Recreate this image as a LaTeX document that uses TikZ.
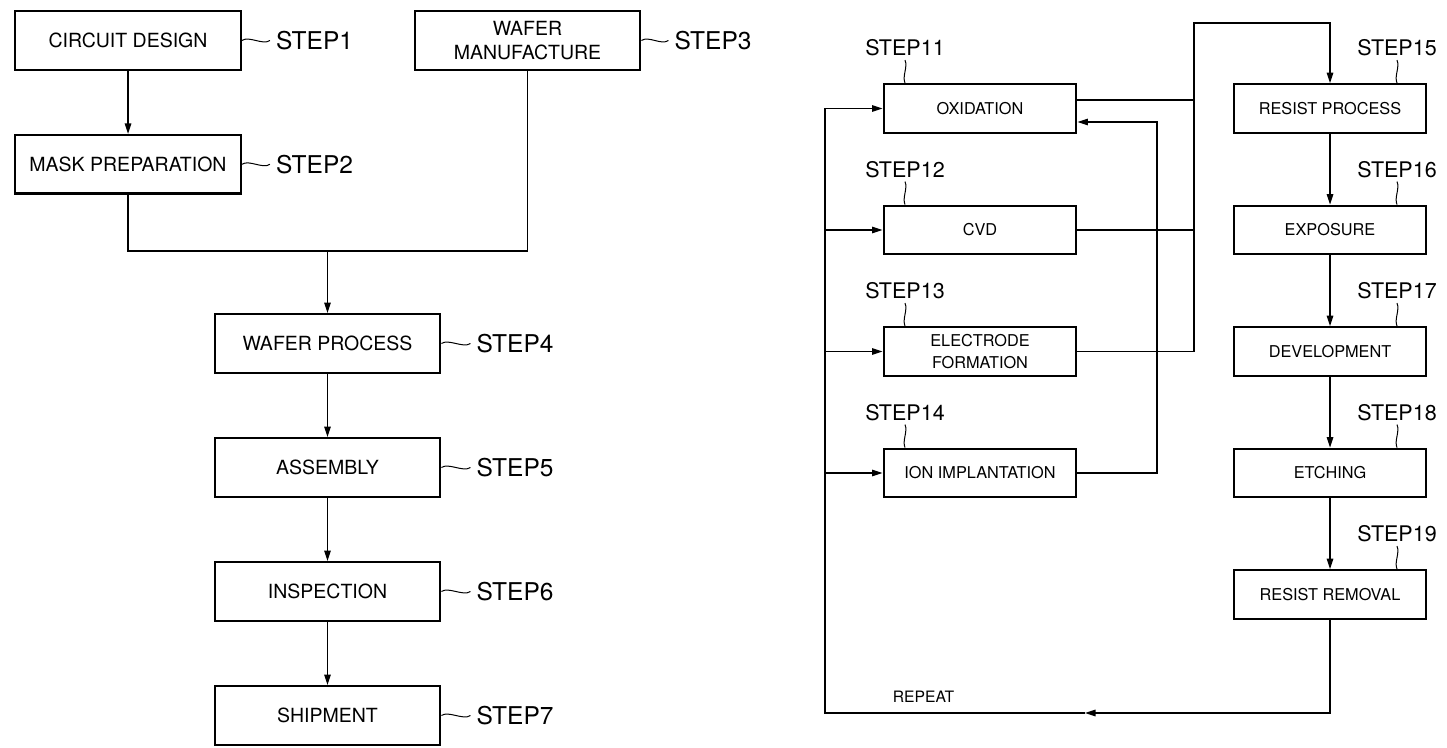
\documentclass[tikz,border=0pt]{standalone}
\usepackage{fontspec}
\setmainfont{TeX Gyre Heros}
\usetikzlibrary{positioning, calc, arrows.meta}

\tikzset{
  box/.style={draw, line width=2.3pt, minimum width=225.5pt, minimum height=58.5pt,
    align=center, font=\fontsize{19.5}{23.3}\selectfont},
  sbox/.style={draw, line width=2.3pt, minimum width=192.5pt, minimum height=48.5pt,
    align=center, font=\fontsize{16.3}{21.7}\selectfont},
  steptag/.style={inner sep=0pt, font=\fontsize{24.5}{28}\selectfont},
  substep/.style={inner sep=0pt, font=\fontsize{21.5}{25}\selectfont},
  wire/.style={line width=1.35pt},
  flow/.style={wire, -{Triangle[length=10.5pt, width=6.5pt]}},
  tilde/.style={line width=1pt, to path={.. controls +(7,-5) and +(-7,5) .. (\tikztotarget)}},
  wiggle/.style={line width=1pt, to path={.. controls +(3,7) and +(-3,-7) .. (\tikztotarget)}},
}

\begin{document}
\begin{tikzpicture}[x=1pt, y=-1pt]
    \useasboundingbox (0,0) rectangle (1447,747);

    % Main manufacturing flow
    \node[box] (cd) at (128,40.5) {CIRCUIT DESIGN};
    \node[box, below=63pt of cd] (mp) {MASK PREPARATION};
    \node[box] (wm) at (527.5,40.5) {WAFER\\MANUFACTURE};
    \node[box] (wp) at (327.5,343.5) {WAFER PROCESS};
    \node[box, below=63.2pt of wp] (as) {ASSEMBLY};
    \node[box, below=63.2pt of as] (in) {INSPECTION};
    \node[box, below=63.2pt of in] (sh) {SHIPMENT};

    % Step tags with tilde leaders
    \node[steptag, right=34pt of cd] (s1) {STEP1};
    \node[steptag, right=34pt of mp] (s2) {STEP2};
    \node[steptag, right=33pt of wm] (s3) {STEP3};
    \node[steptag, right=35pt of wp] (s4) {STEP4};
    \node[steptag, right=35pt of as] (s5) {STEP5};
    \node[steptag, right=35pt of in] (s6) {STEP6};
    \node[steptag, right=35pt of sh] (s7) {STEP7};
    \draw[tilde] (cd.east) to ([xshift=-6pt]s1.west);
    \draw[tilde] (mp.east) to ([xshift=-6pt]s2.west);
    \draw[tilde] (wm.east) to ([xshift=-6pt]s3.west);
    \draw[tilde] (wp.east) to ([xshift=-6pt]s4.west);
    \draw[tilde] (as.east) to ([xshift=-6pt]s5.west);
    \draw[tilde] (in.east) to ([xshift=-6pt]s6.west);
    \draw[tilde] (sh.east) to ([xshift=-6pt]s7.west);

    % Connections
    \draw[flow] (cd) -- (mp);
    \path (wp.north) ++(0,-62) coordinate (join);
    \draw[wire] (mp.south) |- (join) -| (wm.south);
    \draw[flow] (join) -- (wp);
    \draw[flow] (wp) -- (as);
    \draw[flow] (as) -- (in);
    \draw[flow] (in) -- (sh);

    % Wafer process detail
    \node[sbox] (ox) at (980,108.5) {OXIDATION};
    \node[sbox, below=70.7pt of ox] (cvd) {CVD};
    \node[sbox, below=70.7pt of cvd] (ef) {ELECTRODE\\FORMATION};
    \node[sbox, below=70.7pt of ef] (ion) {ION IMPLANTATION};
    \node[sbox] (rp) at (1330,108.5) {RESIST PROCESS};
    \node[sbox, below=70.7pt of rp] (ex) {EXPOSURE};
    \node[sbox, below=70.7pt of ex] (dev) {DEVELOPMENT};
    \node[sbox, below=70.7pt of dev] (etch) {ETCHING};
    \node[sbox, below=70.7pt of etch] (rr) {RESIST REMOVAL};

    % Step tags with wiggle leaders
    \node[substep, anchor=south] (s11) at ($(ox.north)+(-75,-27)$) {STEP11};
    \node[substep, anchor=south] (s12) at ($(cvd.north)+(-75,-27)$) {STEP12};
    \node[substep, anchor=south] (s13) at ($(ef.north)+(-75,-27)$) {STEP13};
    \node[substep, anchor=south] (s14) at ($(ion.north)+(-75,-27)$) {STEP14};
    \node[substep, anchor=south] (s15) at ($(rp.north)+(67,-27)$) {STEP15};
    \node[substep, anchor=south] (s16) at ($(ex.north)+(67,-27)$) {STEP16};
    \node[substep, anchor=south] (s17) at ($(dev.north)+(67,-27)$) {STEP17};
    \node[substep, anchor=south] (s18) at ($(etch.north)+(67,-27)$) {STEP18};
    \node[substep, anchor=south] (s19) at ($(rr.north)+(67,-27)$) {STEP19};
    \draw[wiggle] ([yshift=-4pt]s11.south) to (s11.south |- ox.north);
    \draw[wiggle] ([yshift=-4pt]s12.south) to (s12.south |- cvd.north);
    \draw[wiggle] ([yshift=-4pt]s13.south) to (s13.south |- ef.north);
    \draw[wiggle] ([yshift=-4pt]s14.south) to (s14.south |- ion.north);
    \draw[wiggle] ([yshift=-4pt]s15.south) to (s15.south |- rp.north);
    \draw[wiggle] ([yshift=-4pt]s16.south) to (s16.south |- ex.north);
    \draw[wiggle] ([yshift=-4pt]s17.south) to (s17.south |- dev.north);
    \draw[wiggle] ([yshift=-4pt]s18.south) to (s18.south |- etch.north);
    \draw[wiggle] ([yshift=-4pt]s19.south) to (s19.south |- rr.north);

    % Resist chain
    \draw[flow] (rp) -- (ex);
    \draw[flow] (ex) -- (dev);
    \draw[flow] (dev) -- (etch);
    \draw[flow] (etch) -- (rr);

    % Repeat loop and distribution bus
    \coordinate (bus) at (825,713);
    \coordinate (rpt) at (1085,713);
    \coordinate (col) at (1194,23);
    \coordinate (ret) at (1157,0);
    \coordinate (oxout) at ([yshift=8.5pt]ox.east);
    \coordinate (oxin) at ([yshift=-13.5pt]ox.east);
    \draw[flow] (rr.south) |- (rpt);
    \draw[flow] (rpt) -- (bus) |- (ox.west);
    \draw[flow] (bus |- cvd.west) -- (cvd.west);
    \draw[flow] (bus |- ef.west) -- (ef.west);
    \draw[flow] (bus |- ion.west) -- (ion.west);
    \node[inner sep=0pt, font=\fontsize{15.7}{18}\selectfont] (rep) at (923.5,697) {REPEAT};

    % Collector into resist process, return from ion implantation
    \draw[wire] (oxout) -- (oxout -| col);
    \draw[wire] (cvd.east) -- (cvd.east -| col);
    \draw[flow] (ef.east) -| (col) -| (rp.north);
    \draw[flow] (ion.east) -| (ret |- oxin) -- (oxin);
\end{tikzpicture}
\end{document}
